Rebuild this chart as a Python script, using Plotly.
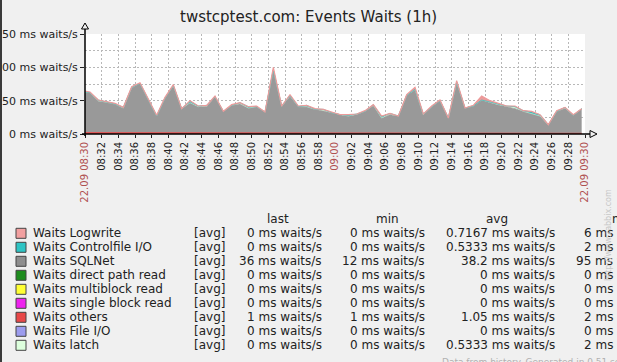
import plotly.graph_objects as go
import pandas as pd

TITLE = "twstcptest.com: Events Waits (1h)"

# sample times (one per minute)
times = pd.date_range("2013-09-22 08:29:36", periods=61, freq="1min")

sqlnet = [61, 60, 48, 47, 44, 38, 67, 74, 50, 26,
          52, 70, 37, 46, 40, 40, 55, 33, 42, 44,
          38, 40, 32, 95, 40, 56, 40, 40, 36, 34,
          31, 28, 26, 28, 33, 42, 23, 27, 26, 57,
          65, 28, 40, 49, 23, 76, 38, 41, 50, 46,
          42, 40, 37, 33, 30, 26, 12, 33, 38, 27,
          37]
logwrite = [1, 1, 0, 1, 1, 0, 1, 1, 0, 1,
            1, 1, 0, 1, 0, 0, 1, 0, 1, 0,
            0, 1, 0, 4, 0, 1, 1, 0, 1, 0,
            1, 0, 1, 0, 1, 0, 1, 0, 0, 1,
            3, 0, 1, 1, 0, 2, 0, 1, 6, 2,
            1, 0, 1, 0, 1, 0, 0, 1, 0, 1,
            0]
controlfile = [1, 0, 1, 0, 0, 1, 0, 0, 1, 0,
               0, 0, 0, 2, 1, 0, 0, 0, 0, 1,
               2, 0, 0, 0, 0, 1, 0, 2, 0, 1,
               0, 0, 1, 0, 0, 1, 2, 0, 0, 0,
               0, 1, 0, 0, 0, 0, 0, 0, 0, 0,
               1, 0, 1, 1, 2, 2, 0, 0, 1, 0,
               0]
others = [2, 2, 1, 1, 1, 1, 2, 2, 1, 1,
          2, 2, 1, 1, 1, 1, 1, 1, 1, 1,
          1, 1, 1, 1, 1, 1, 1, 1, 1, 1,
          1, 1, 1, 1, 1, 1, 1, 2, 1, 1,
          1, 1, 1, 1, 1, 1, 1, 1, 1, 1,
          2, 2, 1, 1, 1, 1, 1, 1, 1, 1,
          1]
latch = [0, 0, 1, 0, 0, 0, 1, 0, 0, 0,
         0, 1, 0, 0, 0, 2, 0, 0, 0, 1,
         0, 0, 0, 0, 1, 0, 0, 0, 0, 1,
         0, 0, 0, 1, 0, 0, 0, 2, 0, 0,
         1, 0, 0, 0, 0, 1, 0, 0, 0, 1,
         0, 0, 2, 0, 0, 0, 1, 0, 0, 0,
         0]

# legend table
series_names = ["Waits Logwrite", "Waits Controlfile I/O", "Waits SQLNet",
                "Waits direct path read", "Waits multiblock read",
                "Waits single block read", "Waits others", "Waits File I/O",
                "Waits latch"]
series_colors = ["#F2A0A0", "#2EC4C4", "#8E8E8E", "#1E8C1E", "#FFFF33",
                 "#EE22EE", "#E84848", "#9C9CEE", "#DDFFDD"]
last_vals = ["0 ms waits/s", "0 ms waits/s", "36 ms waits/s", "0 ms waits/s",
             "0 ms waits/s", "0 ms waits/s", "1 ms waits/s", "0 ms waits/s",
             "0 ms waits/s"]
min_vals = ["0 ms waits/s", "0 ms waits/s", "12 ms waits/s", "0 ms waits/s",
            "0 ms waits/s", "0 ms waits/s", "1 ms waits/s", "0 ms waits/s",
            "0 ms waits/s"]
avg_vals = ["0.7167 ms waits/s", "0.5333 ms waits/s", "38.2 ms waits/s",
            "0 ms waits/s", "0 ms waits/s", "0 ms waits/s", "1.05 ms waits/s",
            "0 ms waits/s", "0.5333 ms waits/s"]
max_vals = ["6 ms waits/s", "2 ms waits/s", "95 ms waits/s", "0 ms waits/s",
            "0 ms waits/s", "0 ms waits/s", "2 ms waits/s", "0 ms waits/s",
            "2 ms waits/s"]
col_headers = ["last", "min", "avg", "max"]

x_tick_times = pd.date_range("2013-09-22 08:30", "2013-09-22 09:30", freq="2min")
RED = "#b05050"
x_tick_text = []
for t in x_tick_times:
    if t.minute == 30 and t.hour in (8, 9):
        x_tick_text.append('<span style="color:%s">22.09 %s</span>' % (RED, t.strftime("%H:%M")))
    elif t.minute == 0:
        x_tick_text.append('<span style="color:%s">%s</span>' % (RED, t.strftime("%H:%M")))
    else:
        x_tick_text.append(t.strftime("%H:%M"))
y_tick_vals = [0, 50, 100, 150]
y_tick_text = ["0 ms waits/s", "50 ms waits/s", "100 ms waits/s", "150 ms waits/s"]

FONT = "DejaVu Sans"
BG = "#f0f0f0"
W, H = 617, 362
L, R, T, B = 85, 585, 34, 134


def px(x):
    return (x - L) / (R - L)


def py(y):
    return (B - y) / (B - T)


fig = go.Figure()
stack = [("Waits others", others, "#E84848", 1.0),
         ("Waits SQLNet", sqlnet, "#999999", 0.8),
         ("Waits latch", latch, "#DDFFDD", 0.5),
         ("Waits Controlfile I/O", controlfile, "#3CBCBC", 0.8),
         ("Waits Logwrite", logwrite, "#EC9A9A", 1.2)]
for name, vals, col, lw in stack:
    fig.add_trace(go.Scatter(x=times, y=vals, name=name, mode="lines",
                             stackgroup="one", line=dict(color=col, width=lw),
                             fillcolor=col, showlegend=False, hoverinfo="skip"))

grid_col = "#b8b8b8"
fig.update_layout(
    width=W, height=H,
    margin=dict(l=L, r=W - R, t=T, b=H - B, autoexpand=False),
    paper_bgcolor=BG, plot_bgcolor="white",
    font=dict(family=FONT, color="#222"),
    showlegend=False,
    xaxis=dict(type="date",
               range=["2013-09-22 08:30:00", "2013-09-22 09:30:00"],
               tickmode="array", tickvals=x_tick_times, ticktext=x_tick_text,
               tickangle=-90, tickfont=dict(size=10, color="#222", family=FONT),
               ticks="outside", ticklen=3, tickcolor="#222",
               showgrid=True, gridcolor=grid_col, griddash="2px,2px", gridwidth=1,
               zeroline=False, showline=False, automargin=False, fixedrange=True),
    yaxis=dict(range=[0, 150], tickmode="array", tickvals=y_tick_vals,
               ticktext=y_tick_text, tickfont=dict(size=11, color="#222", family=FONT),
               ticks="outside", ticklen=4, tickcolor="#222",
               showgrid=True, gridcolor=grid_col, griddash="2px,2px",
               minor=dict(dtick=25, showgrid=True, gridcolor=grid_col,
                          griddash="2px,2px", ticks=""),
               zeroline=False, showline=False, automargin=False, fixedrange=True),
)

shapes = []
# axes lines with arrows
shapes.append(dict(type="line", xref="paper", yref="paper", x0=0, x1=0,
                   y0=py(B + 2), y1=py(28), line=dict(color="black", width=1.5)))
shapes.append(dict(type="path", xref="paper", yref="paper",
                   path="M %f,%f L %f,%f L %f,%f Z" % (px(L - 3.5), py(29), px(L), py(23), px(L + 3.5), py(29)),
                   line=dict(color="black", width=1), fillcolor=BG))
shapes.append(dict(type="line", xref="paper", yref="paper", x0=px(L - 3), x1=px(590),
                   y0=0, y1=0, line=dict(color="black", width=1.5)))
shapes.append(dict(type="path", xref="paper", yref="paper",
                   path="M %f,%f L %f,%f L %f,%f Z" % (px(590), py(B - 3.5), px(597), py(B), px(590), py(B + 3.5)),
                   line=dict(color="black", width=1), fillcolor=BG))
# left frame border
shapes.append(dict(type="line", xref="paper", yref="paper", x0=px(1), x1=px(1),
                   y0=py(H), y1=py(0), line=dict(color="#3a3a3a", width=2)))

annotations = []
annotations.append(dict(text=TITLE, xref="paper", yref="paper", x=px(308), y=py(17),
                        xanchor="center", yanchor="middle", showarrow=False,
                        font=dict(size=15, color="#222", family=FONT)))

row0 = 233.3
step = 14
hdr_pos = [(278, "center"), (387, "center"), (497, "center"), (610, "left")]
for (hx, anc), htxt in zip(hdr_pos, col_headers):
    annotations.append(dict(text=htxt, xref="paper", yref="paper", x=px(hx), y=py(row0 - step),
                            xanchor=anc, yanchor="middle", showarrow=False,
                            font=dict(size=12, color="#222", family=FONT)))
col_right = [324, 427, 557, 661]
for i, name in enumerate(series_names):
    yc = row0 + i * step
    shapes.append(dict(type="rect", xref="paper", yref="paper",
                       x0=px(16), x1=px(26), y0=py(yc - 5), y1=py(yc + 5),
                       line=dict(color="#444", width=1), fillcolor=series_colors[i]))
    annotations.append(dict(text=name, xref="paper", yref="paper", x=px(31), y=py(yc),
                            xanchor="left", yanchor="middle", showarrow=False,
                            font=dict(size=12, color="#222", family=FONT)))
    annotations.append(dict(text="[avg]", xref="paper", yref="paper", x=px(192), y=py(yc),
                            xanchor="left", yanchor="middle", showarrow=False,
                            font=dict(size=12, color="#222", family=FONT)))
    for xr, vals in zip(col_right, [last_vals, min_vals, avg_vals, max_vals]):
        annotations.append(dict(text=vals[i], xref="paper", yref="paper", x=px(xr), y=py(yc),
                                xanchor="right", yanchor="middle", showarrow=False,
                                font=dict(size=12, color="#222", family=FONT)))

annotations.append(dict(text="Data from history. Generated in 0.51 sec", xref="paper", yref="paper",
                        x=px(440), y=py(355), xanchor="left", yanchor="top", showarrow=False,
                        font=dict(size=9, color="#b0b0b0", family=FONT)))
annotations.append(dict(text="http://www.zabbix.com", xref="paper", yref="paper",
                        x=px(609), y=py(235), xanchor="center", yanchor="middle",
                        textangle=-90, showarrow=False,
                        font=dict(size=8, color="#c8c8c8", family=FONT)))

fig.update_layout(shapes=shapes, annotations=annotations)
fig.write_html("out.html", config={"displayModeBar": False},
               post_script="document.body.style.margin='0';document.body.style.overflow='hidden';")
